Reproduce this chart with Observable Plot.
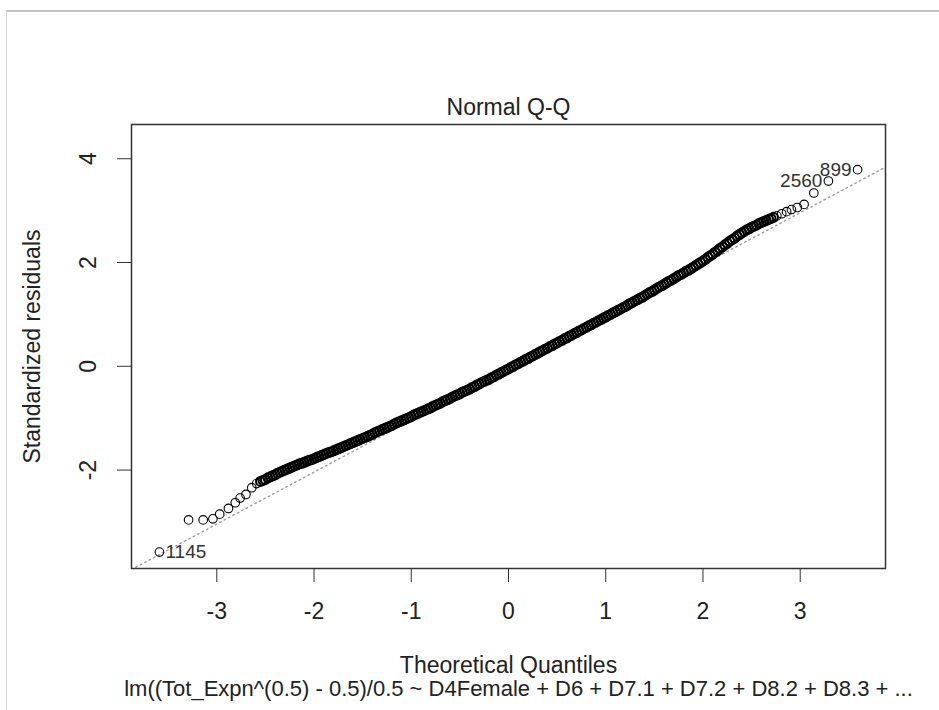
<!DOCTYPE html>
<html><head><meta charset="utf-8">
<script src="https://cdn.jsdelivr.net/npm/d3@7"></script>
<script src="https://cdn.jsdelivr.net/npm/@observablehq/plot@0.6"></script>
<style>
html,body{margin:0;padding:0;background:#fff;}
#wrap{position:relative;width:939px;height:710px;overflow:hidden;background:#fff;}
#edge{position:absolute;left:6px;top:10px;width:940px;height:710px;border-top:2px solid #c4c4c4;border-left:1px solid #d4d4d4;}
#chart{position:absolute;left:0;top:0;}
</style></head><body>
<div id="wrap"><div id="edge"></div><div id="chart"></div></div>
<script>
// Theoretical quantiles (x) and standardized residuals (y)
const lowTailX = [-3.59, -3.29, -3.14, -3.04, -2.97, -2.88, -2.81, -2.76, -2.70, -2.64, -2.59];
const lowTailY = [-3.58, -2.96, -2.96, -2.94, -2.85, -2.74, -2.63, -2.54, -2.47, -2.34, -2.26];
const bodyX = [
-2.550,-2.525,-2.500,-2.475,-2.450,-2.425,-2.400,-2.375,-2.350,-2.325,-2.300,-2.275,-2.250,-2.225,-2.200,-2.175,-2.150,-2.125,-2.100,-2.075,-2.050,-2.025,
-2.000,-1.975,-1.950,-1.925,-1.900,-1.875,-1.850,-1.825,-1.800,-1.775,-1.750,-1.725,-1.700,-1.675,-1.650,-1.625,-1.600,-1.575,-1.550,-1.525,
-1.500,-1.475,-1.450,-1.425,-1.400,-1.375,-1.350,-1.325,-1.300,-1.275,-1.250,-1.225,-1.200,-1.175,-1.150,-1.125,-1.100,-1.075,-1.050,-1.025,
-1.000,-0.975,-0.950,-0.925,-0.900,-0.875,-0.850,-0.825,-0.800,-0.775,-0.750,-0.725,-0.700,-0.675,-0.650,-0.625,-0.600,-0.575,-0.550,-0.525,
-0.500,-0.475,-0.450,-0.425,-0.400,-0.375,-0.350,-0.325,-0.300,-0.275,-0.250,-0.225,-0.200,-0.175,-0.150,-0.125,-0.100,-0.075,-0.050,-0.025,
0.000,0.025,0.050,0.075,0.100,0.125,0.150,0.175,0.200,0.225,0.250,0.275,0.300,0.325,0.350,0.375,0.400,0.425,0.450,0.475,
0.500,0.525,0.550,0.575,0.600,0.625,0.650,0.675,0.700,0.725,0.750,0.775,0.800,0.825,0.850,0.875,0.900,0.925,0.950,0.975,
1.000,1.025,1.050,1.075,1.100,1.125,1.150,1.175,1.200,1.225,1.250,1.275,1.300,1.325,1.350,1.375,1.400,1.425,1.450,1.475,
1.500,1.525,1.550,1.575,1.600,1.625,1.650,1.675,1.700,1.725,1.750,1.775,1.800,1.825,1.850,1.875,1.900,1.925,1.950,1.975,
2.000,2.025,2.050,2.075,2.100,2.125,2.150,2.175,2.200,2.225,2.250,2.275,2.300,2.325,2.350,2.375,2.400,2.425,2.450,2.475,
2.500,2.525,2.550,2.575,2.600,2.625,2.650,2.675,2.700,2.725];
const bodyY = [
-2.22,-2.20,-2.18,-2.15,-2.13,-2.11,-2.09,-2.06,-2.04,-2.02,-2.00,-1.98,-1.96,-1.94,-1.92,-1.90,-1.88,-1.87,-1.85,-1.83,-1.81,-1.80,
-1.78,-1.76,-1.74,-1.72,-1.70,-1.68,-1.66,-1.65,-1.63,-1.61,-1.59,-1.57,-1.55,-1.53,-1.51,-1.49,-1.47,-1.45,-1.43,-1.41,
-1.39,-1.37,-1.35,-1.33,-1.31,-1.28,-1.26,-1.24,-1.22,-1.20,-1.18,-1.16,-1.14,-1.11,-1.09,-1.07,-1.05,-1.03,-1.01,-0.99,
-0.97,-0.94,-0.92,-0.90,-0.88,-0.86,-0.84,-0.82,-0.80,-0.77,-0.75,-0.73,-0.71,-0.68,-0.66,-0.64,-0.62,-0.59,-0.57,-0.55,
-0.53,-0.50,-0.48,-0.46,-0.44,-0.41,-0.39,-0.36,-0.34,-0.31,-0.29,-0.27,-0.25,-0.22,-0.20,-0.17,-0.15,-0.12,-0.10,-0.07,
-0.05,-0.02,0.00,0.03,0.05,0.08,0.10,0.13,0.15,0.18,0.20,0.23,0.25,0.28,0.30,0.33,0.35,0.38,0.40,0.43,
0.45,0.48,0.50,0.53,0.55,0.58,0.60,0.63,0.65,0.68,0.70,0.73,0.75,0.78,0.80,0.83,0.85,0.88,0.90,0.93,
0.95,0.98,1.00,1.03,1.05,1.08,1.10,1.13,1.15,1.18,1.21,1.23,1.26,1.28,1.31,1.33,1.36,1.39,1.42,1.44,
1.47,1.50,1.53,1.55,1.58,1.61,1.64,1.66,1.69,1.72,1.75,1.77,1.80,1.83,1.85,1.88,1.91,1.94,1.97,2.00,
2.03,2.06,2.10,2.13,2.16,2.20,2.23,2.27,2.30,2.34,2.37,2.41,2.44,2.47,2.51,2.54,2.57,2.60,2.63,2.65,
2.68,2.70,2.72,2.75,2.77,2.79,2.81,2.83,2.85,2.87];
const highTailX = [2.76, 2.81, 2.86, 2.91, 2.97, 3.04, 3.14, 3.29, 3.59];
const highTailY = [2.90, 2.94, 2.98, 3.02, 3.06, 3.12, 3.34, 3.57, 3.79];

// labelled observations
const idNames = ["1145", "2560", "899"];
const idX = [-3.59, 3.29, 3.59];
const idY = [-3.58, 3.57, 3.79];
const idSide = ["right", "left", "left"];

// reference line (qqline): intercept and slope
const qqIntercept = -0.04;
const qqSlope = 1.0;

const xTicks = [-3, -2, -1, 0, 1, 2, 3];
const yTicks = [-2, 0, 2, 4];

const titleText = "Normal Q-Q";
const xLabel = "Theoretical Quantiles";
const yLabel = "Standardized residuals";
const captionText = "lm((Tot_Expn^(0.5) - 0.5)/0.5 ~ D4Female + D6 + D7.1 + D7.2 + D8.2 + D8.3 + ...";

const tails = [...lowTailX.map((x, i) => ({x, y: lowTailY[i]})), ...highTailX.map((x, i) => ({x, y: highTailY[i]}))];
const body = bodyX.map((x, i) => ({x, y: bodyY[i]}));
const allX = [...lowTailX, ...bodyX, ...highTailX];
const allY = [...lowTailY, ...bodyY, ...highTailY];

// R-style limits: 4% expansion, extra 7.5% head-room for labels on y
const xr = d3.extent(allX);
const xd = [xr[0] - 0.04 * (xr[1] - xr[0]), xr[1] + 0.04 * (xr[1] - xr[0])];
const yr0 = d3.extent(allY);
const yr = [yr0[0], yr0[1] + 0.075 * (yr0[1] - yr0[0])];
const yd = [yr[0] - 0.04 * (yr[1] - yr[0]), yr[1] + 0.04 * (yr[1] - yr[0])];

const linePts = xd.map(x => ({x, y: qqIntercept + qqSlope * x}));
const ids = idNames.map((n, i) => ({n, x: idX[i], y: idY[i], side: idSide[i]}));

const FONT = "'Liberation Sans', Arial, Helvetica, sans-serif";
const FS = 23;
const TXT = "#222";

const chart = Plot.plot({
  width: 939,
  height: 710,
  marginLeft: 131,
  marginRight: 54,
  marginTop: 124,
  marginBottom: 142,
  style: {fontFamily: FONT, fontSize: FS + "px", background: "transparent", color: TXT},
  x: {domain: xd, label: null},
  y: {domain: yd, label: null},
  marks: [
    Plot.line(linePts, {x: "x", y: "y", stroke: "#9a9a9a", strokeWidth: 1.4, strokeDasharray: "1.5,3.5", clip: true}),
    Plot.dot(body, {x: "x", y: "y", r: 4.5, stroke: "#000", strokeWidth: 2, fill: "none"}),
    Plot.dot(tails, {x: "x", y: "y", r: 4.3, stroke: "#000", strokeWidth: 1.1, fill: "none"}),
    Plot.text(ids.filter(d => d.side === "right"), {x: "x", y: "y", text: "n", dx: 6, textAnchor: "start", lineAnchor: "middle", fontSize: 19, fill: "#333"}),
    Plot.text(ids.filter(d => d.side === "left"), {x: "x", y: "y", text: "n", dx: -6, textAnchor: "end", lineAnchor: "middle", fontSize: 19, fill: "#333"}),
    Plot.frame({stroke: "#333", strokeWidth: 1.5}),
    Plot.axisX({ticks: xTicks, tickSize: 14, tickPadding: 20, tickFormat: d => String(d), fontSize: FS, label: null, stroke: "#333"}),
    Plot.axisY({ticks: yTicks, tickSize: 14, tickFormat: () => "", label: null, stroke: "#333"}),
    Plot.text(yTicks, {y: d => d, text: d => String(d), frameAnchor: "left", dx: -43, rotate: -90, textAnchor: "middle", lineAnchor: "middle", fontSize: FS, fill: TXT}),
    Plot.text([titleText], {text: d => d, frameAnchor: "top", dy: -17, textAnchor: "middle", lineAnchor: "middle", fontSize: FS, fill: TXT}),
    Plot.text([xLabel], {text: d => d, frameAnchor: "bottom", dy: 97, textAnchor: "middle", lineAnchor: "middle", fontSize: FS, fill: TXT}),
    Plot.text([captionText], {text: d => d, frameAnchor: "bottom", dy: 120, dx: 10, textAnchor: "middle", lineAnchor: "middle", fontSize: 22, fill: TXT}),
    Plot.text([yLabel], {text: d => d, frameAnchor: "left", dx: -99, rotate: -90, textAnchor: "middle", lineAnchor: "middle", fontSize: FS, fill: TXT})
  ]
});
document.getElementById("chart").appendChild(chart);
</script></body></html>
